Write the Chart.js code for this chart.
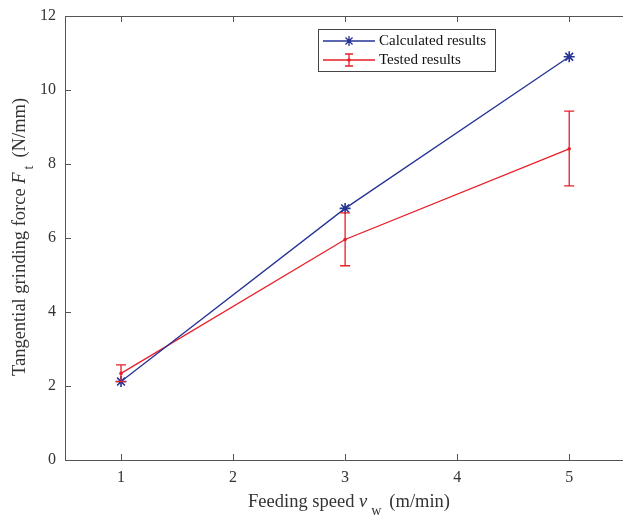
<!DOCTYPE html>
<html>
<head>
<meta charset="utf-8">
<script src="https://cdn.jsdelivr.net/npm/chart.js@4"></script>
<style>
  html, body { margin: 0; padding: 0; background: #fff; overflow: hidden; }
  canvas { display: block; }
</style>
</head>
<body>
<canvas id="force" width="623" height="516"></canvas>
<script>
// feeding speed (m/min)
const speeds = [1, 3, 5]
// tangential grinding force (N/mm)
const calculated = [2.12, 6.80, 10.90]
const tested = [2.34, 5.96, 8.41]
const testedLow = [2.12, 5.25, 7.41]
const testedHigh = [2.57, 6.68, 9.43]

const xTicks = [1, 2, 3, 4, 5]
const yTicks = [0, 2, 4, 6, 8, 10, 12]

const blue = 'rgb(38,52,150)'
const red = 'rgb(232,30,40)'
const axisColor = '#555'
const serif = '"Liberation Serif", "Times New Roman", serif'

const toPoints = ys => speeds.map((x, i) => ({ x, y: ys[i] }))

// error bars for tested results
const errorBars = {
  id: 'errorBars',
  afterDatasetsDraw(chart) {
    const { ctx, scales: { x, y } } = chart
    ctx.save()
    ctx.strokeStyle = red
    ctx.lineWidth = 1.3
    speeds.forEach((s, i) => {
      const px = x.getPixelForValue(s)
      const lo = y.getPixelForValue(testedLow[i])
      const hi = y.getPixelForValue(testedHigh[i])
      ctx.beginPath()
      ctx.moveTo(px, lo); ctx.lineTo(px, hi)
      ctx.moveTo(px - 5, lo); ctx.lineTo(px + 5, lo)
      ctx.moveTo(px - 5, hi); ctx.lineTo(px + 5, hi)
      ctx.stroke()
    })
    ctx.restore()
  }
}

// matlab style frame: top line, inward ticks, titles, legend
const frame = {
  id: 'frame',
  afterDraw(chart) {
    const { ctx, chartArea: a, scales: { x, y } } = chart
    ctx.save()
    ctx.strokeStyle = axisColor
    ctx.lineWidth = 1
    ctx.beginPath()
    ctx.moveTo(a.left, a.top + 0.5); ctx.lineTo(a.right, a.top + 0.5)
    xTicks.forEach(v => {
      const px = Math.round(x.getPixelForValue(v)) + 0.5
      ctx.moveTo(px, a.bottom); ctx.lineTo(px, a.bottom - 6)
      ctx.moveTo(px, a.top); ctx.lineTo(px, a.top + 6)
    })
    yTicks.forEach(v => {
      const py = Math.round(y.getPixelForValue(v)) + 0.5
      ctx.moveTo(a.left, py); ctx.lineTo(a.left + 6, py)
    })
    ctx.stroke()

    // axis titles (pieces with gaps so subscripts sit like matlab tex)
    ctx.fillStyle = '#333'
    ctx.textBaseline = 'alphabetic'
    const parts = (list, cx, base) => {
      let w = 0
      list.forEach(p => { ctx.font = p.font; w += ctx.measureText(p.t).width + (p.gap || 0) })
      let cur = cx - w / 2
      list.forEach(p => {
        ctx.font = p.font
        ctx.fillText(p.t, cur, base + (p.dy || 0))
        cur += ctx.measureText(p.t).width + (p.gap || 0)
      })
    }
    ctx.textAlign = 'left'
    parts([
      { t: 'Feeding speed ', font: '18.5px ' + serif },
      { t: 'v', font: 'italic 18.5px ' + serif, gap: 4 },
      { t: 'w', font: '14px ' + serif, dy: 8, gap: 8 },
      { t: '(m/min)', font: '18.5px ' + serif }
    ], 349, 507)

    ctx.save()
    ctx.translate(25, 237)
    ctx.rotate(-Math.PI / 2)
    parts([
      { t: 'Tangential grinding force ', font: '18.5px ' + serif },
      { t: 'F', font: 'italic 18.5px ' + serif, gap: 3 },
      { t: 't', font: '14px ' + serif, dy: 8, gap: 8 },
      { t: '(N/mm)', font: '18.5px ' + serif }
    ], 0, 0)
    ctx.restore()

    // legend box
    const lx = 318, ly = 29, lw = 177, lh = 42
    ctx.fillStyle = '#fff'
    ctx.fillRect(lx, ly, lw, lh)
    ctx.strokeStyle = '#444'
    ctx.strokeRect(lx + 0.5, ly + 0.5, lw, lh)
    ctx.font = '15px ' + serif
    ctx.fillStyle = '#111'
    ctx.textBaseline = 'middle'
    const r1 = ly + 12, r2 = ly + 31
    ctx.lineWidth = 1.3
    ctx.strokeStyle = blue
    ctx.beginPath()
    ctx.moveTo(323, r1); ctx.lineTo(375, r1)
    // asterisk
    for (let k = 0; k < 4; k++) {
      const ang = k * Math.PI / 4
      ctx.moveTo(349 - 5 * Math.cos(ang), r1 - 5 * Math.sin(ang))
      ctx.lineTo(349 + 5 * Math.cos(ang), r1 + 5 * Math.sin(ang))
    }
    ctx.stroke()
    ctx.strokeStyle = red
    ctx.beginPath()
    ctx.moveTo(323, r2); ctx.lineTo(375, r2)
    ctx.moveTo(349, r2 - 6); ctx.lineTo(349, r2 + 6)
    ctx.moveTo(345, r2 - 6); ctx.lineTo(353, r2 - 6)
    ctx.moveTo(345, r2 + 6); ctx.lineTo(353, r2 + 6)
    ctx.stroke()
    ctx.fillStyle = red
    ctx.beginPath(); ctx.arc(349, r2, 1.8, 0, Math.PI * 2); ctx.fill()
    ctx.fillStyle = '#111'
    ctx.fillText('Calculated results', 379, r1)
    ctx.fillText('Tested results', 379, r2)
    ctx.restore()
  }
}

new Chart(document.getElementById('force'), {
  type: 'line',
  data: {
    datasets: [
      {
        label: 'Calculated results',
        data: toPoints(calculated),
        borderColor: blue,
        backgroundColor: blue,
        borderWidth: 1.3,
        pointStyle: 'star',
        pointRadius: 5.5,
        pointBorderWidth: 1.6
      },
      {
        label: 'Tested results',
        data: toPoints(tested),
        borderColor: red,
        backgroundColor: red,
        borderWidth: 1.3,
        pointStyle: 'circle',
        pointRadius: 1.8,
        pointBorderWidth: 0
      }
    ]
  },
  options: {
    responsive: false,
    animation: false,
    layout: { autoPadding: false, padding: { top: 16, right: 0, left: 0, bottom: 0 } },
    plugins: {
      legend: { display: false },
      tooltip: { enabled: false }
    },
    scales: {
      x: {
        type: 'linear',
        min: 0.5,
        max: 5.48,
        afterBuildTicks: s => { s.ticks = xTicks.map(v => ({ value: v })) },
        afterFit: s => { s.height = 56; s.paddingLeft = 0; s.paddingRight = 0 },
        grid: { display: false, drawTicks: false },
        border: { display: true, color: axisColor, width: 1 },
        ticks: { color: '#333', padding: 8, font: { family: serif, size: 16 } }
      },
      y: {
        min: 0,
        max: 12,
        afterBuildTicks: s => { s.ticks = yTicks.map(v => ({ value: v })) },
        afterFit: s => { s.width = 65; s.paddingTop = 0; s.paddingBottom = 0 },
        grid: { display: false, drawTicks: false },
        border: { display: true, color: axisColor, width: 1 },
        ticks: { color: '#333', padding: 9, font: { family: serif, size: 16 } }
      }
    }
  },
  plugins: [errorBars, frame]
})
</script>
</body>
</html>
